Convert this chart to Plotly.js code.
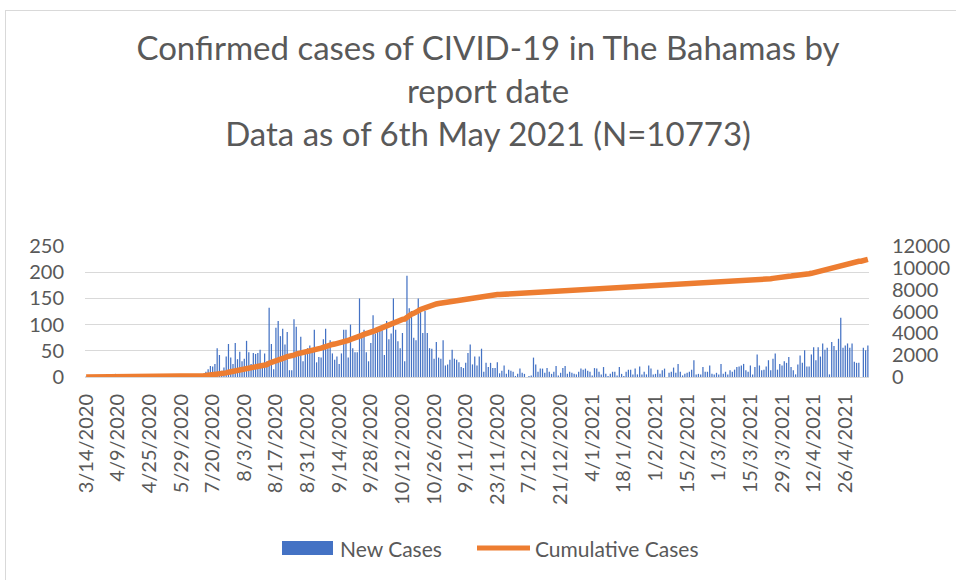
<!DOCTYPE html>
<html>
<head>
<meta charset="utf-8">
<script src="https://cdn.plot.ly/plotly-3.0.1.min.js"></script>
<style>
  html, body { margin:0; padding:0; width:956px; height:580px; overflow:hidden; background:#ffffff; }
  #frame { position:absolute; left:5px; top:10px; width:1200px; height:900px; border:1px solid #d9d9d9; box-sizing:border-box; }
  #chart { position:absolute; left:0; top:0; width:956px; height:580px; }
</style>
</head>
<body>
<div id="frame"></div>
<div id="chart"></div>
<script>
// X-axis tick labels (every 14th report date category)
const tickLabels = ["3/14/2020","4/9/2020","4/25/2020","5/29/2020","7/20/2020","8/3/2020","8/17/2020",
  "8/31/2020","9/14/2020","9/28/2020","10/12/2020","10/26/2020","9/11/2020","23/11/2020","7/12/2020",
  "21/12/2020","4/1/2021","18/1/2021","1/2/2021","15/2/2021","1/3/2021","15/3/2021","29/3/2021",
  "12/4/2021","26/4/2021"];
const labelEvery = 14;

// New cases per report date
const newCasesEarly = [
  1,0,2,1,1,2,1,3,3,2,4,5,4,6,
  2,1,4,5,2,3,5,3,2,4,1,3,2,3,
  2,1,1,3,2,1,1,2,0,1,2,3,1,2,
  1,1,0,2,1,0,1,2,3,4,6,10,15,21
];
const newCasesSummer = [
  20,25,55,42,12,18,39,63,37,25,
  65,34,48,30,35,69,47,25,46,44,
  46,52,20,45,30,132,63,15,94,107,
  78,92,62,86,13,13,110,96,40,77,
  30,45,55,60,52,90,28,38,37,72,
  92,55,70,45,33,39
];
const newCasesAutumnWinter = [
  25,45,90,90,37,100,55,47,47,150,
  75,90,47,30,65,118,83,94,96,89,
  42,107,72,83,150,90,68,55,84,30,
  193,131,126,75,70,150,130,84,126,84,
  55,54,35,67,37,35,70,22,24,33,
  52,35,33,28,19,17,27,46,62,24,
  39,22,39,54,10,27,19,27,17,17,
  28,7,12,22,6,14,12,10,2,6,
  16,8,6,0,2,3,37,24,10,16,
  16,8,17,10,6,10,21,3,8,17,
  21,6,10,8,6,5,10,16,14,16,
  12,10,3,17,16,10,5,19,6,2,
  6,10,10,3,19,6,2,10,14,14,5,16,5
];
const newCasesSpring = [
  20,5,10,5,22,16,5,6,14,6,
  13,16,0,8,10,18,8,25,10,3,
  6,8,10,14,32,5,6,5,19,10,
  10,22,6,5,8,5,25,6,10,5,13,10,
  14,19,20,22,25,13,10,22,5,19,
  43,22,13,14,20,32,13,35,45,14,
  25,22,30,27,38,19,13,5,24,41,
  27,51,20,20,43,57,32,57,39,64,
  52,56,5,67,59,51,73,113,56,60,
  64,56,64,29,27,27,0,56,51,60
];

const newCases = newCasesEarly.concat(newCasesSummer, newCasesAutumnWinter, newCasesSpring);
// Cumulative cases = running total of new cases
const cumulative = [];
newCases.reduce((acc, v) => { acc += v; cumulative.push(acc); return acc; }, 0);
const cat = newCases.map((_, i) => i);
const tickVals = tickLabels.map((_, k) => k * labelEvery);

const txt = '#595959';
const FONT = 'Lato, "Open Sans", sans-serif';

// plot area in px: x 85..869, y 246..377
const PL = 85, PW = 784, PB = 377, PH = 131;
const px = x => (x - PL) / PW;
const py = y => (PB - y) / PH;

const traces = [
  { type:'bar', x:cat, y:newCases, name:'New Cases', marker:{color:'#4472C4'}, showlegend:false },
  { type:'scatter', mode:'lines', x:cat, y:cumulative, yaxis:'y2', name:'Cumulative Cases',
    line:{color:'#ED7D31', width:5.5}, showlegend:false }
];

const layout = {
  width:956, height:580,
  margin:{l:PL, r:956-PL-PW, t:PB-PH, b:580-PB, pad:0},
  paper_bgcolor:'rgba(0,0,0,0)', plot_bgcolor:'rgba(0,0,0,0)',
  font:{family:FONT, color:txt},
  bargap:0.45,
  title:{
    text:'Confirmed cases of CIVID-19 in The Bahamas by<br>report date<br>Data as of 6th May 2021 (N=10773)',
    font:{family:FONT, size:33, color:txt},
    x:0.5105, xanchor:'center', xref:'container',
    y:1-60/580, yanchor:'top', yref:'container'
  },
  xaxis:{
    range:[-0.5, newCases.length-0.5], tickmode:'array', tickvals:tickVals, ticktext:tickLabels,
    tickangle:-90, tickfont:{size:20, color:txt}, showgrid:false, zeroline:false, showline:false,
    ticks:'', ticklabelstandoff:12
  },
  yaxis:{
    range:[0,250], dtick:50, tickfont:{size:20, color:txt}, gridcolor:'#D9D9D9', gridwidth:1,
    zeroline:true, zerolinecolor:'#D9D9D9', zerolinewidth:1, showline:false, ticks:'', ticklabelstandoff:20
  },
  yaxis2:{
    overlaying:'y', side:'right', range:[0,12000], dtick:2000, tickformat:'d', showgrid:false, zeroline:false,
    showline:false, tickfont:{size:20, color:txt}, ticks:'', ticklabelstandoff:22
  },
  shapes:[
    {type:'rect', xref:'paper', yref:'paper', x0:px(282), x1:px(333), y0:py(541), y1:py(555),
     fillcolor:'#4472C4', line:{width:0}},
    {type:'line', xref:'paper', yref:'paper', x0:px(477), x1:px(530), y0:py(548), y1:py(548),
     line:{color:'#ED7D31', width:5}}
  ],
  annotations:[
    {xref:'paper', yref:'paper', x:px(338), y:py(548), xanchor:'left', yanchor:'middle',
     text:'New Cases', showarrow:false, font:{family:FONT, size:21, color:txt}},
    {xref:'paper', yref:'paper', x:px(533), y:py(548), xanchor:'left', yanchor:'middle',
     text:'Cumulative Cases', showarrow:false, font:{family:FONT, size:21, color:txt}}
  ]
};

Plotly.newPlot('chart', traces, layout, {staticPlot:true, displayModeBar:false});
</script>
</body>
</html>
